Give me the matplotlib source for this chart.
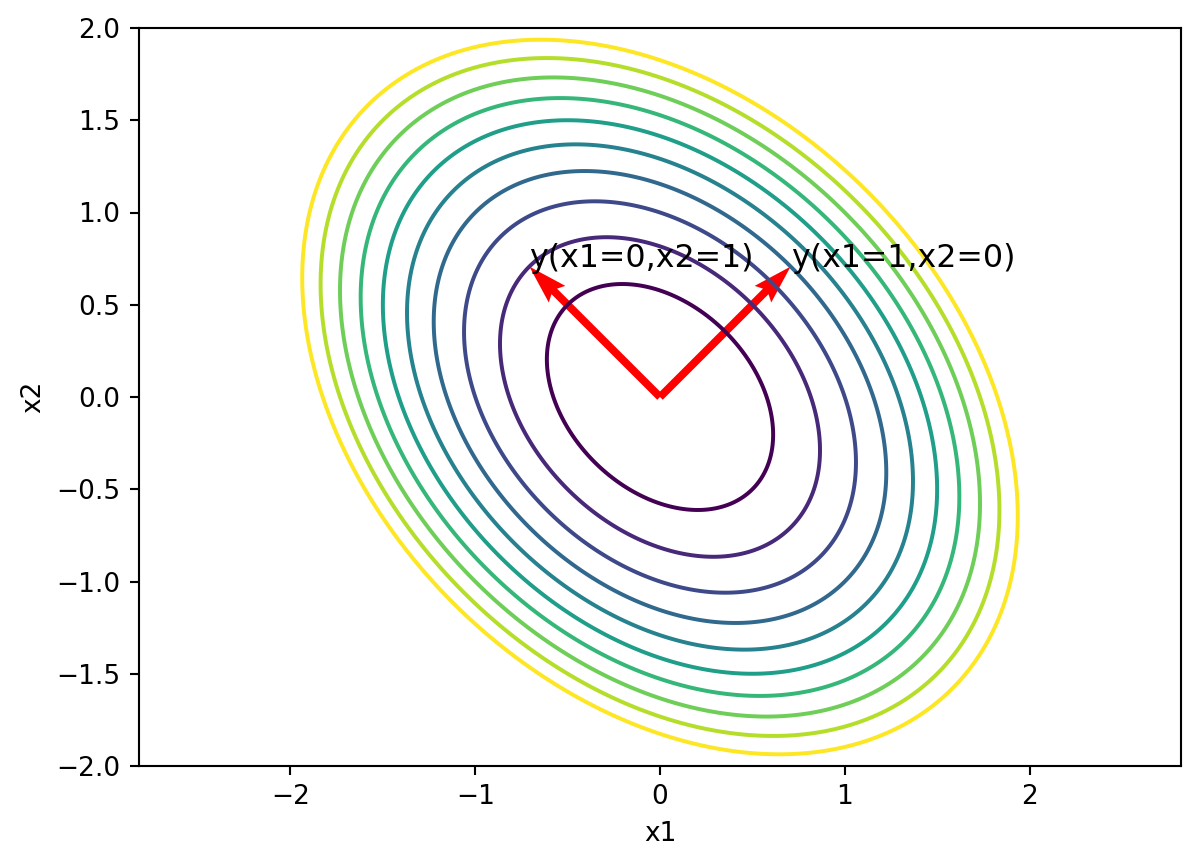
import numpy as np
import matplotlib.pyplot as plt

# quadratic form in the rotated frame: f = 2*y1^2 + y2^2
eigvals = [2.0, 1.0]
levels = [0.5, 1.0, 1.5, 2.0, 2.5, 3.0, 3.5, 4.0, 4.5, 5.0]
# basis vectors (x1=1,x2=0) and (x1=0,x2=1) rotated by 45 degrees
vec_u = [0.707, -0.707]
vec_v = [0.707, 0.707]
labels = ["y(x1=1,x2=0)", "y(x1=0,x2=1)"]

x1 = np.linspace(-2.9, 2.9, 600)
x2 = np.linspace(-2.1, 2.1, 600)
X1, X2 = np.meshgrid(x1, x2)
Y1 = (X1 + X2) / np.sqrt(2)
Y2 = (X2 - X1) / np.sqrt(2)
Z = eigvals[0] * Y1**2 + eigvals[1] * Y2**2

fig = plt.figure(figsize=(1199 / 190, 868 / 190), dpi=190)
ax = fig.add_axes([139 / 1199, 1 - 766 / 868, 1042 / 1199, 738 / 868])

ax.contour(X1, X2, Z, levels=levels, cmap="viridis")
ax.quiver([0, 0], [0, 0], vec_u, vec_v, angles="xy", scale_units="xy",
          scale=1, color="r")
ax.text(vec_u[0], vec_v[0], labels[0], fontsize=12)
ax.text(vec_u[1], vec_v[1], labels[1], fontsize=12)

ax.set_xlim(-2.82, 2.82)
ax.set_ylim(-2, 2)
ax.set_xlabel("x1")
ax.set_ylabel("x2")

fig.savefig("out.png", dpi=190)
